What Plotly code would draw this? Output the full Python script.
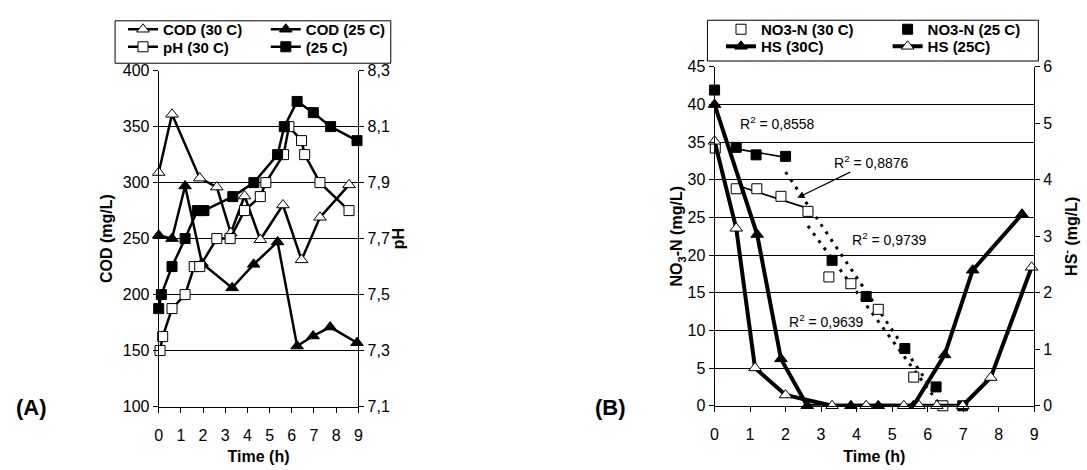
import numpy as np
import plotly.graph_objects as go

# ---------------- data: chart (A) ----------------
t_cod30 = [0, 0.6, 1.85, 2.62, 3.25, 3.87, 4.58, 5.6, 6.44, 7.27, 8.58]
cod30 = [309, 361, 304, 296, 255, 288, 249, 280, 231, 269, 298]
t_cod25 = [0, 0.6, 1.19, 1.95, 3.31, 4.28, 5.36, 6.24, 6.96, 7.73, 8.94]
cod25 = [253, 250, 297, 228, 206, 227, 247, 154, 163, 171, 157]
t_ph30 = [0.06, 0.18, 0.6, 1.19, 1.6, 1.85, 2.62, 3.22, 3.87, 4.58, 4.83, 5.63, 5.87, 6.44, 6.58, 7.27, 8.58]
ph30 = [7.30, 7.35, 7.45, 7.50, 7.60, 7.60, 7.70, 7.70, 7.80, 7.85, 7.90, 8.00, 8.10, 8.05, 8.00, 7.90, 7.80]
t_ph25 = [0, 0.12, 0.6, 1.19, 1.74, 2.04, 3.34, 4.29, 5.36, 5.66, 6.24, 6.97, 7.75, 8.94]
ph25 = [7.45, 7.50, 7.60, 7.70, 7.80, 7.80, 7.85, 7.90, 8.00, 8.10, 8.19, 8.15, 8.10, 8.05]
x_ticks = [0, 1, 2, 3, 4, 5, 6, 7, 8, 9]
cod_ticks = [100, 150, 200, 250, 300, 350, 400]
ph_ticks = [7.1, 7.3, 7.5, 7.7, 7.9, 8.1, 8.3]

# ---------------- data: chart (B) ----------------
t_no3_30 = [0.02, 0.61, 1.19, 1.87, 2.63, 3.22, 3.84, 4.61, 5.61, 6.43]
no3_30 = [34.2, 28.8, 28.8, 27.8, 25.8, 17.1, 16.2, 12.8, 3.8, 0.0]
t_no3_25 = [0, 0.61, 1.17, 2.0, 3.31, 4.27, 5.36, 6.24, 6.99]
no3_25 = [41.9, 34.3, 33.3, 33.1, 19.3, 14.5, 7.6, 2.5, 0.0]
t_hs30 = [0, 1.2, 1.87, 2.61, 3.84, 4.61, 5.6, 6.48, 7.27, 8.66]
hs30 = [5.33, 3.03, 0.83, 0, 0, 0, 0, 0.9, 2.4, 3.39]
t_hs25 = [0, 0.61, 1.14, 2.0, 3.31, 4.27, 5.33, 5.76, 6.26, 6.99, 7.78, 8.93]
hs25 = [4.68, 3.14, 0.67, 0.19, 0, 0, 0, 0, 0, 0, 0.5, 2.45]
no3_ticks = [0, 5, 10, 15, 20, 25, 30, 35, 40, 45]
hs_ticks = [0, 1, 2, 3, 4, 5, 6]
# trend-line fit ranges (index slices) and printed R² labels
fit_25_a = (1, 4)
fit_25_b = (3, 8)
fit_30_a = (1, 5)
fit_30_b = (4, 10)
r2_labels = ["R<sup>2</sup> = 0,8558", "R<sup>2</sup> = 0,8876", "R<sup>2</sup> = 0,9739", "R<sup>2</sup> = 0,9639"]

W, H = 1087, 470
FONT = "Liberation Sans, Arial, sans-serif"


def px(x):
    return x / W


def py(y):
    return 1 - y / H


fig = go.Figure()

BLACK = "black"
mk_open = dict(color="white", line=dict(color=BLACK, width=1))
mk_fill = dict(color=BLACK, line=dict(color=BLACK, width=1))

# ---- chart A traces ----
fig.add_trace(go.Scatter(x=t_cod30, y=cod30, name="COD (30 C)", mode="lines+markers",
                         line=dict(color=BLACK, width=2.5),
                         marker=dict(symbol="triangle-up", size=11, **mk_open),
                         xaxis="x", yaxis="y", legend="legend", cliponaxis=False))
fig.add_trace(go.Scatter(x=t_cod25, y=cod25, name="COD (25 C)", mode="lines+markers",
                         line=dict(color=BLACK, width=2.5),
                         marker=dict(symbol="triangle-up", size=11, **mk_fill),
                         xaxis="x", yaxis="y", legend="legend2", cliponaxis=False))
fig.add_trace(go.Scatter(x=t_ph30, y=ph30, name="pH (30 C)", mode="lines+markers",
                         line=dict(color=BLACK, width=2.5),
                         marker=dict(symbol="square", size=10, **mk_open),
                         xaxis="x", yaxis="y2", legend="legend3", cliponaxis=False))
fig.add_trace(go.Scatter(x=t_ph25, y=ph25, name="(25 C)", mode="lines+markers",
                         line=dict(color=BLACK, width=2.5),
                         marker=dict(symbol="square", size=10, **mk_fill),
                         xaxis="x", yaxis="y2", legend="legend4", cliponaxis=False))


# ---- chart B trend lines ----
def trend(ts, vs, rng, dash, width):
    a, b = rng
    tt = np.array(ts[a:b])
    vv = np.array(vs[a:b])
    k, c = np.polyfit(tt, vv, 1)
    xs = [tt.min(), tt.max()]
    ys = [k * xs[0] + c, k * xs[1] + c]
    fig.add_trace(go.Scatter(x=xs, y=ys, mode="lines", showlegend=False,
                             line=dict(color=BLACK, width=width, dash=dash),
                             xaxis="x2", yaxis="y3", hoverinfo="skip"))


trend(t_no3_25, no3_25, fit_25_a, "solid", 1.6)
trend(t_no3_30, no3_30, fit_30_a, "solid", 1.6)
trend(t_no3_25, no3_25, fit_25_b, "3px,6px", 3)
trend(t_no3_30, no3_30, fit_30_b, "3px,6px", 3)

fig.add_trace(go.Scatter(x=t_hs30, y=hs30, name="HS (30C)", mode="lines+markers",
                         line=dict(color=BLACK, width=4),
                         marker=dict(symbol="triangle-up", size=11, **mk_fill),
                         xaxis="x2", yaxis="y4", legend="legend7", cliponaxis=False))
fig.add_trace(go.Scatter(x=t_hs25, y=hs25, name="HS (25C)", mode="lines+markers",
                         line=dict(color=BLACK, width=4),
                         marker=dict(symbol="triangle-up", size=11, **mk_open),
                         xaxis="x2", yaxis="y4", legend="legend8", cliponaxis=False))
fig.add_trace(go.Scatter(x=t_no3_30, y=no3_30, name="NO3-N (30 C)", mode="markers",
                         marker=dict(symbol="square", size=10, **mk_open),
                         xaxis="x2", yaxis="y3", legend="legend5", cliponaxis=False))
fig.add_trace(go.Scatter(x=t_no3_25, y=no3_25, name="NO3-N (25 C)", mode="markers",
                         marker=dict(symbol="square", size=10, **mk_fill),
                         xaxis="x2", yaxis="y3", legend="legend6", cliponaxis=False))

tickfont = dict(family=FONT, size=16, color=BLACK)
titlefont = dict(family=FONT, size=16, color=BLACK, weight="bold")

axis_common = dict(showline=True, linecolor=BLACK, linewidth=1, ticks="outside", ticklen=5,
                   tickcolor=BLACK, tickfont=tickfont, zeroline=False)

lx = [px(156), px(357.3)]
ly = [py(413.5), py(65)]
rx = [px(716.5), px(1038.7)]
ry = [py(412.7), py(60.9)]

legend_font = dict(family=FONT, size=15, color=BLACK, weight="bold")


def leg(x, y):
    return dict(x=px(x), y=py(y), xanchor="left", yanchor="middle", bgcolor="rgba(0,0,0,0)",
                borderwidth=0, font=legend_font, orientation="v", itemclick=False,
                itemdoubleclick=False)


fig.update_layout(
    width=W, height=H, margin=dict(l=0, r=0, t=0, b=0),
    paper_bgcolor="white", plot_bgcolor="white", separators=",.",
    font=dict(family=FONT, color=BLACK),
    xaxis=dict(domain=lx, range=[0, 9], tickvals=x_ticks, anchor="y", ticklabelstandoff=9,
               title=dict(text="Time (h)", font=titlefont, standoff=8), showgrid=False, **axis_common),
    yaxis=dict(domain=ly, range=[100, 400], tickvals=cod_ticks, anchor="x",
               showgrid=True, gridcolor=BLACK, gridwidth=1,
               title=dict(text="COD (mg/L)", font=titlefont, standoff=6), **axis_common),
    yaxis2=dict(range=[7.1, 8.3], tickvals=ph_ticks, tickformat=".1f", overlaying="y", side="right",
                anchor="x", showgrid=False,
                title=dict(text="pH", font=titlefont, standoff=1), **axis_common),
    xaxis2=dict(domain=rx, range=[0, 9], tickvals=x_ticks, anchor="y3", ticklabelstandoff=9,
                title=dict(text="Time (h)", font=titlefont, standoff=8), showgrid=False, **axis_common),
    yaxis3=dict(domain=ry, range=[0, 45], tickvals=no3_ticks, anchor="x2",
                showgrid=True, gridcolor=BLACK, gridwidth=1,
                title=dict(text="NO<sub>3</sub>-N (mg/L)", font=titlefont, standoff=0), **axis_common),
    yaxis4=dict(range=[0, 6], tickvals=hs_ticks, overlaying="y3", side="right", anchor="x2",
                showgrid=False,
                title=dict(text="HS<sup>-</sup> (mg/L)", font=titlefont, standoff=14), **axis_common),
    legend=leg(120, 22.3),
    legend2=leg(264, 22.3),
    legend3=leg(120, 40.5),
    legend4=leg(264, 40.5),
    legend5=leg(723, 22.3),
    legend6=leg(891, 22.3),
    legend7=leg(723, 40),
    legend8=leg(891, 40),
)

# legend frames
fig.add_shape(type="rect", xref="paper", yref="paper", x0=px(112), x1=px(390), y0=py(57.3), y1=py(13.3),
              line=dict(color=BLACK, width=1), fillcolor="white", layer="below")
fig.add_shape(type="rect", xref="paper", yref="paper", x0=px(709.3), x1=px(1043), y0=py(55), y1=py(12.7),
              line=dict(color=BLACK, width=1), fillcolor="white", layer="below")

r2font = dict(family=FONT, size=14, color=BLACK)
fig.add_annotation(x=1.78, y=37.5, xref="x2", yref="y3", text=r2_labels[0], showarrow=False, font=r2font)
fig.add_annotation(x=2.33, y=27.6, xref="x2", yref="y3", ax=4.43, ay=32.4, axref="x2", ayref="y3",
                   text=r2_labels[1], showarrow=True, arrowhead=2, arrowsize=1.2, arrowwidth=1.2,
                   arrowcolor=BLACK, font=r2font)
fig.add_annotation(x=4.93, y=22.1, xref="x2", yref="y3", text=r2_labels[2], showarrow=False, font=r2font)
fig.add_annotation(x=3.16, y=11.2, xref="x2", yref="y3", text=r2_labels[3], showarrow=False, font=r2font)

panel_font = dict(family=FONT, size=22, color=BLACK, weight="bold")
fig.add_annotation(x=px(27.5), y=py(414), xref="paper", yref="paper", text="(A)", showarrow=False,
                   xanchor="center", yanchor="middle", font=panel_font)
fig.add_annotation(x=px(612), y=py(414), xref="paper", yref="paper", text="(B)", showarrow=False,
                   xanchor="center", yanchor="middle", font=panel_font)

fig.write_html("out.html")
